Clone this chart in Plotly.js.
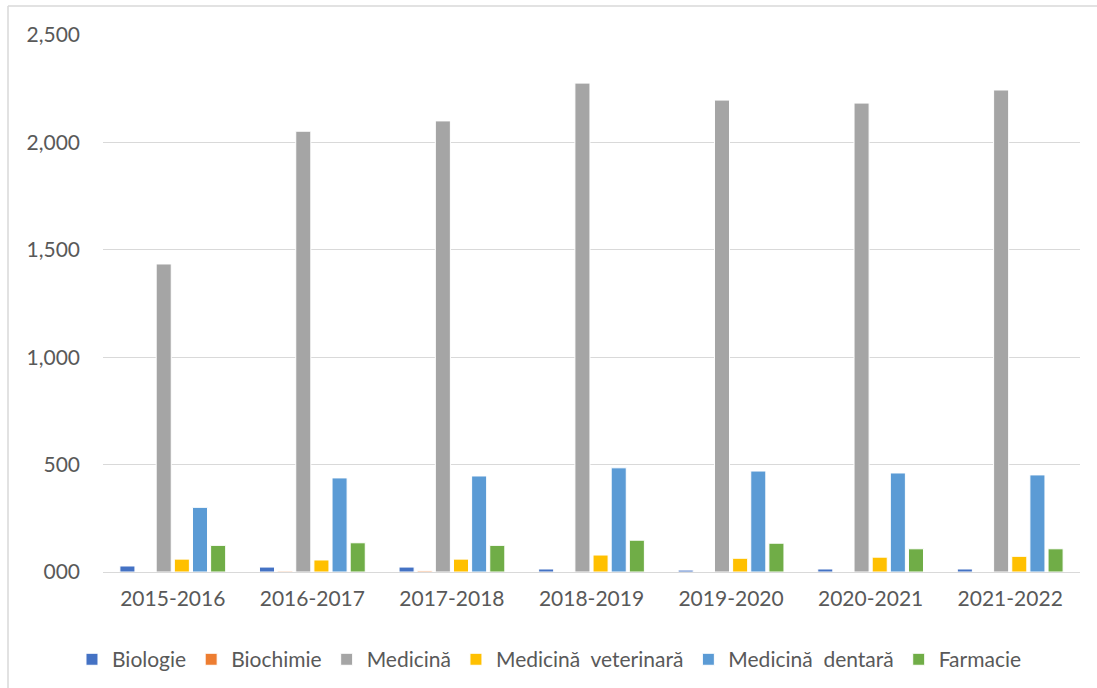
<!DOCTYPE html>
<html>
<head>
<meta charset="utf-8">
<script src="https://cdn.plot.ly/plotly-3.0.1.min.js"></script>
<style>html,body{margin:0;padding:0;background:#fff;} #chart{width:1097px;height:688px;}</style>
</head>
<body>
<div id="chart"></div>
<script>
const categories = ["2015-2016","2016-2017","2017-2018","2018-2019","2019-2020","2020-2021","2021-2022"];
const biologie   = [28, 23, 23, 14, 9, 14, 14];
const biochimie  = [0, 4, 5, 0, 0, 0, 0];
const medicina   = [1434, 2052, 2100, 2276, 2197, 2183, 2244];
const veterinara = [60, 56, 60, 79, 64, 69, 73];
const dentara    = [301, 438, 447, 485, 470, 461, 452];
const farmacie   = [124, 136, 124, 148, 134, 108, 108];
const seriesNames = ["Biologie","Biochimie","Medicină","Medicină\u00a0\u00a0veterinară","Medicină\u00a0\u00a0dentară","Farmacie"];
const seriesColors = ["#4472C4","#ED7D31","#A5A5A5","#FFC000","#5B9BD5","#70AD47"];
const tickVals = [0, 500, 1000, 1500, 2000, 2500];
const tickText = ["000","500","1,000","1,500","2,000","2,500"];

const allSeries = [biologie, biochimie, medicina, veterinara, dentara, farmacie];
const traces = allSeries.map((vals, i) => ({
  type: "bar",
  name: seriesNames[i],
  x: categories,
  y: vals,
  marker: {color: seriesColors[i], line: {color: "#ffffff", width: 1}},
  hoverinfo: "x+y+name"
}));

const font = "Lato, 'Open Sans', sans-serif";
const layout = {
  width: 1097, height: 688,
  margin: {l: 103, r: 17, t: 35, b: 116, autoexpand: false},
  paper_bgcolor: "#ffffff", plot_bgcolor: "#ffffff",
  font: {family: font, color: "#595959", size: 21},
  barmode: "group",
  bargap: 0.22,
  bargroupgap: 0.17,
  showlegend: true,
  legend: {
    orientation: "h", x: 0.457, xanchor: "center", y: -0.125, yanchor: "top",
    font: {family: font, size: 21, color: "#595959"},
    itemwidth: 30, traceorder: "normal", tracegroupgap: 0
  },
  xaxis: {
    type: "category",
    showgrid: false, zeroline: false,
    showline: true, linecolor: "#d9d9d9", linewidth: 1,
    ticks: "", tickfont: {family: font, size: 21, color: "#595959"},
    ticklabelstandoff: 8
  },
  yaxis: {
    range: [0, 2500],
    tickvals: tickVals, ticktext: tickText,
    showgrid: true, gridcolor: "#d9d9d9", gridwidth: 1,
    zeroline: false, showline: false, ticks: "",
    tickfont: {family: font, size: 21, color: "#595959"},
    ticklabelstandoff: 22
  },
  shapes: [
    {type: "line", xref: "paper", yref: "paper", x0: (8-103)/977, x1: (1097-103)/977, y0: (688-116-6)/537, y1: (688-116-6)/537, line: {color: "#d9d9d9", width: 1.5}},
    {type: "line", xref: "paper", yref: "paper", x0: (8-103)/977, x1: (8-103)/977, y0: (688-116-6)/537, y1: -116/537, line: {color: "#d9d9d9", width: 1.5}}
  ]
};
Plotly.newPlot("chart", traces, layout, {displayModeBar: false, staticPlot: true});
</script>
</body>
</html>
